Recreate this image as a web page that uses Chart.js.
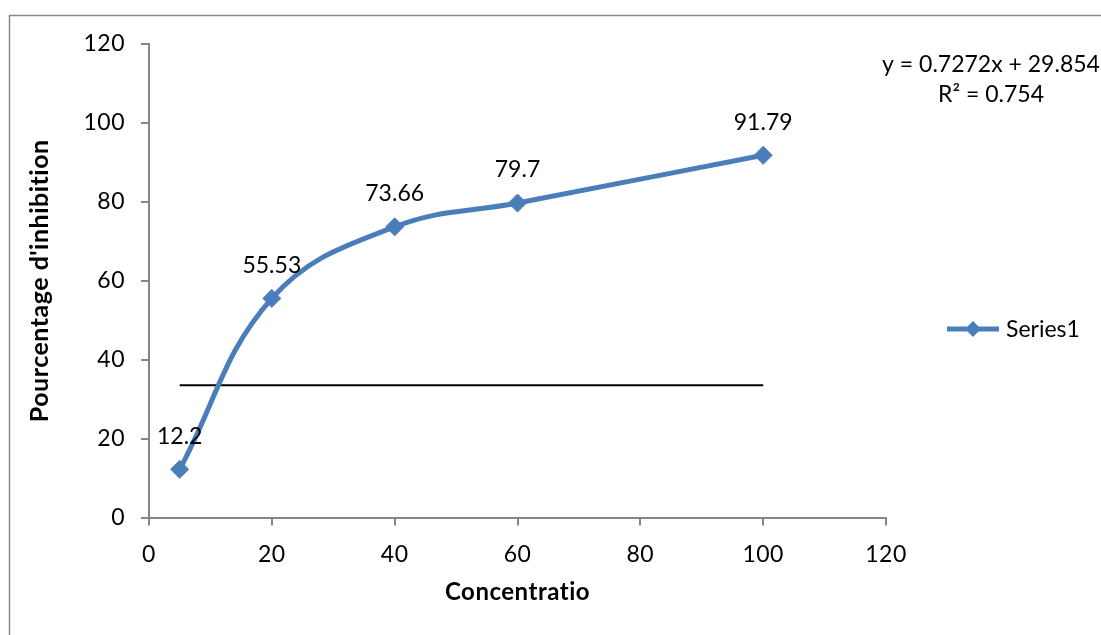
<!DOCTYPE html>
<html>
<head>
<meta charset="utf-8">
<script src="https://cdn.jsdelivr.net/npm/chart.js@4"></script>
<style>
  body { margin: 0; background: #fff; }
  #wrap { width: 1101px; height: 635px; position: relative; }
</style>
</head>
<body>
<div id="wrap"><canvas id="chart"></canvas></div>
<script>
const concentrations = [5, 20, 40, 60, 100];
const inhibition = [12.2, 55.53, 73.66, 79.7, 91.79];
const trendX = [5, 100];
const trendY = [33.49, 33.49];
const equationLines = ['y = 0.7272x + 29.854', 'R² = 0.754'];
const seriesName = 'Series1';

const blue = '#4a7ebb';
const axisGray = '#868686';
const FONT = 'Lato, "Open Sans", sans-serif';

// Excel-like frame, legend, trendline equation and point labels
const excelBits = {
    id: 'excelBits',
    beforeDraw(chart) {
        const ctx = chart.ctx;
        // a little spacing also stops Lato's "ti" ligature
        ctx.letterSpacing = '0.5px';
        ctx.save();
        ctx.fillStyle = '#fff';
        ctx.fillRect(0, 0, chart.width, chart.height);
        ctx.strokeStyle = '#8a8a8a';
        ctx.lineWidth = 1.5;
        ctx.strokeRect(9.5, 15.5, 2000, 2000);
        ctx.restore();
    },
    afterDatasetsDraw(chart) {
        const ctx = chart.ctx;
        ctx.save();
        ctx.letterSpacing = '0px';
        ctx.fillStyle = '#000';
        ctx.font = '23px ' + FONT;
        ctx.textAlign = 'center';
        ctx.textBaseline = 'middle';
        chart.getDatasetMeta(0).data.forEach((pt, i) => {
            ctx.fillText(String(inhibition[i]), pt.x, pt.y - 33);
        });

        // equation
        equationLines.forEach((t, i) => ctx.fillText(t, 991, 65 + i * 30));

        // legend
        const ly = 329;
        ctx.strokeStyle = blue;
        ctx.lineWidth = 5;
        ctx.beginPath();
        ctx.moveTo(947, ly);
        ctx.lineTo(999, ly);
        ctx.stroke();
        ctx.fillStyle = blue;
        ctx.beginPath();
        ctx.moveTo(973, ly - 8);
        ctx.lineTo(981, ly);
        ctx.lineTo(973, ly + 8);
        ctx.lineTo(965, ly);
        ctx.closePath();
        ctx.fill();
        ctx.fillStyle = '#000';
        ctx.textAlign = 'left';
        ctx.fillText(seriesName, 1006, ly + 1);
        ctx.restore();
    }
};

const axisCommon = {
    type: 'linear',
    min: 0,
    max: 120,
    border: { color: axisGray, width: 2 },
    grid: { drawOnChartArea: false, drawTicks: true, tickLength: 8, color: axisGray, lineWidth: 2 },
    ticks: { stepSize: 20, color: '#000', font: { family: FONT, size: 23 } }
};

new Chart(document.getElementById('chart').getContext('2d'), {
    type: 'line',
    data: {
        datasets: [{
            label: seriesName,
            data: concentrations.map((x, i) => ({ x: x, y: inhibition[i] })),
            borderColor: blue,
            backgroundColor: blue,
            borderWidth: 5,
            pointStyle: 'rectRot',
            pointRadius: 9,
            pointBorderWidth: 1,
            tension: 0.4,
            fill: false
        }, {
            label: 'trend',
            data: trendX.map((x, i) => ({ x: x, y: trendY[i] })),
            borderColor: '#000',
            borderWidth: 2,
            pointRadius: 0,
            tension: 0,
            fill: false
        }]
    },
    options: {
        responsive: true,
        maintainAspectRatio: false,
        animation: false,
        layout: { padding: { left: 0, top: 44, right: 215, bottom: 0 } },
        plugins: {
            legend: { display: false },
            tooltip: { enabled: false }
        },
        scales: {
            x: Object.assign({}, axisCommon, {
                position: 'bottom',
                ticks: Object.assign({}, axisCommon.ticks, { padding: 15, maxRotation: 0 }),
                title: {
                    display: true,
                    text: 'Concentratio',
                    color: '#000',
                    font: { family: FONT, size: 24, weight: 'bold' },
                    padding: { top: 0, bottom: 28 }
                },
                afterFit(scale) { scale.height = 117.5; }
            }),
            y: Object.assign({}, axisCommon, {
                position: 'left',
                ticks: Object.assign({}, axisCommon.ticks, { padding: 16 }),
                title: {
                    display: true,
                    text: "Pourcentage d'inhibition",
                    color: '#000',
                    font: { family: FONT, size: 25, weight: 'bold' },
                    padding: { top: 25, bottom: 0 }
                },
                afterFit(scale) { scale.width = 149; }
            })
        }
    },
    plugins: [excelBits]
});
</script>
</body>
</html>
